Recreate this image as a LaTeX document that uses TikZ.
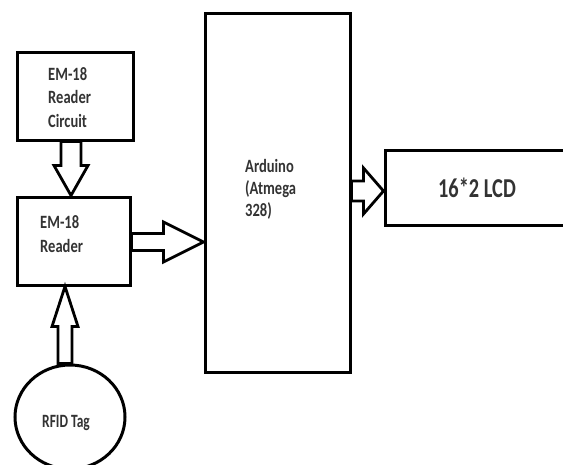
\documentclass[tikz,border=0pt]{standalone}
\usepackage{fontspec}
\setmainfont{Carlito}
\usepackage{graphicx}
\usetikzlibrary{calc,shapes.geometric}
\newcommand\blocktext[2][19]{\scalebox{0.97}[1.25]{\fontsize{15}{#1}\selectfont\bfseries\begin{tabular}{@{}l@{}}#2\end{tabular}}}
\begin{document}
\begin{tikzpicture}[x=1pt,y=-1pt,
  box/.style={draw,line width=3pt,inner sep=0pt},
  lbl/.style={inner sep=0pt,text=black!80},
  blk/.style={draw,line width=2.8pt,fill=white,line join=miter}]
\useasboundingbox (0,0) rectangle (563,464);
\clip (0,0) rectangle (563,464);
% blocks
\node[box,minimum width=116pt,minimum height=88pt] (circ) at (75,96) {};
\node[box,minimum width=113pt,minimum height=88pt] (rdr) at (73.5,241) {};
\node[box,minimum width=145pt,minimum height=359pt] (ard) at (277.5,192.5) {};
\node[box,minimum width=215pt,minimum height=75pt] (lcd) at (492.5,187.5) {};
\node[box,ellipse,minimum width=110pt,minimum height=104pt] (rfid) at (70,417) {};
% labels
\node[lbl,anchor=west] (circt) at (48,99) {\blocktext{EM-18\\Reader\\Circuit}};
\node[lbl,anchor=west] (rdrt) at (40,236) {\blocktext{EM-18\\Reader}};
\node[lbl,anchor=west] (ardt) at (245,190) {\blocktext[17.6]{Arduino\\(Atmega\\328)}};
\node[lbl] (lcdt) at (477,188) {\scalebox{0.97}[1.3]{\fontsize{21}{25}\selectfont\bfseries 16*2 LCD}};
\node[lbl] (rfidt) at (66,423) {\scalebox{0.9}[1.25]{\fontsize{15}{18}\selectfont\bfseries RFID Tag}};
% guide coordinates for the block arrows
\coordinate (ax1) at (71,0);
\coordinate (ay2) at (0,242);
\coordinate (ay3) at (0,191);
\coordinate (ax4) at (65,0);
% circuit -> reader
\draw[blk] ($(circ.south -| ax1)+(-10,0)$) -- ($(rdr.north -| ax1)+(-10,-30)$)
  -- ($(rdr.north -| ax1)+(-17,-30)$) -- (rdr.north -| ax1)
  -- ($(rdr.north -| ax1)+(17,-30)$) -- ($(rdr.north -| ax1)+(10,-30)$)
  -- ($(circ.south -| ax1)+(10,0)$) -- cycle;
% reader -> arduino
\draw[blk] ($(rdr.east |- ay2)+(0,-8.5)$) -- ($(ard.west |- ay2)+(-40,-8.5)$)
  -- ($(ard.west |- ay2)+(-40,-20)$) -- (ard.west |- ay2)
  -- ($(ard.west |- ay2)+(-40,20)$) -- ($(ard.west |- ay2)+(-40,8.5)$)
  -- ($(rdr.east |- ay2)+(0,8.5)$) -- cycle;
% arduino -> lcd
\draw[blk] ($(ard.east |- ay3)+(0,-10)$) -- ($(lcd.west |- ay3)+(-20,-10)$)
  -- ($(lcd.west |- ay3)+(-20,-23)$) -- (lcd.west |- ay3)
  -- ($(lcd.west |- ay3)+(-20,23)$) -- ($(lcd.west |- ay3)+(-20,10)$)
  -- ($(ard.east |- ay3)+(0,10)$) -- cycle;
% rfid -> reader
\draw[blk] ($(rfid.north -| ax4)+(-7,0)$) -- ($(rdr.south -| ax4)+(-7,40)$)
  -- ($(rdr.south -| ax4)+(-13,40)$) -- (rdr.south -| ax4)
  -- ($(rdr.south -| ax4)+(13,40)$) -- ($(rdr.south -| ax4)+(7,40)$)
  -- ($(rfid.north -| ax4)+(7,0)$) -- cycle;
\end{tikzpicture}
\end{document}
